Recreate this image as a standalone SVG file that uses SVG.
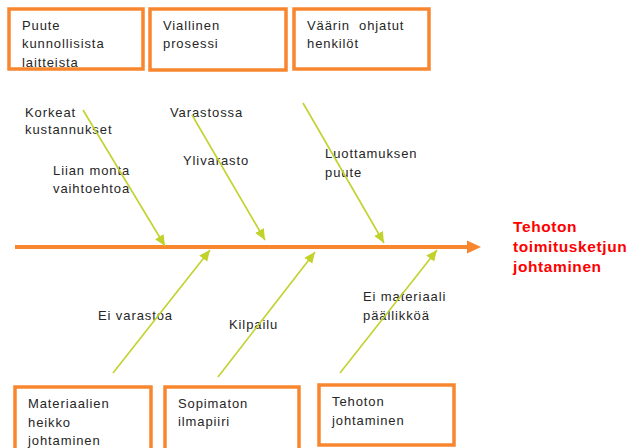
<svg xmlns="http://www.w3.org/2000/svg" width="629" height="448" viewBox="0 0 629 448">
<style>
.t{font-family:"Liberation Sans",Arial,sans-serif;font-size:13px;letter-spacing:0.9px;fill:#262626}
.box{fill:none;stroke:#F7862F;stroke-width:3.5}
.bone{stroke:#C2D22C;stroke-width:1.6;fill:none;marker-end:url(#ah)}
.head{font-family:"Liberation Sans",Arial,sans-serif;font-size:15.5px;font-weight:bold;letter-spacing:0.6px;fill:#FF0000}
</style>
<defs>
<marker id="ah" markerUnits="userSpaceOnUse" markerWidth="12" markerHeight="12" refX="11" refY="5" orient="auto">
<path d="M0,0 L11,5 L0,10 z" fill="#C2D22C"/>
</marker>
<filter id="sh" x="-5%" y="-200%" width="110%" height="500%">
<feGaussianBlur stdDeviation="1.5"/>
</filter>
</defs>
<rect width="629" height="448" fill="#FFFFFF"/>

<g id="box-puute">
<text class="t" x="22" y="30">Puute</text>
<text class="t" x="22" y="48">kunnollisista</text>
<text class="t" x="22" y="67">laitteista</text>
<rect class="box" x="9" y="9" width="134" height="60"/>
</g>
<g id="box-viallinen">
<text class="t" x="163" y="30">Viallinen</text>
<text class="t" x="163" y="48">prosessi</text>
<rect class="box" x="150" y="9" width="136" height="61"/>
</g>
<g id="box-vaarin">
<text class="t" x="307" y="30">Väärin&#160; ohjatut</text>
<text class="t" x="307" y="48">henkilöt</text>
<rect class="box" x="294" y="9" width="135" height="60"/>
</g>

<g id="box-materiaalien">
<text class="t" x="28" y="408">Materiaalien</text>
<text class="t" x="28" y="427">heikko</text>
<text class="t" x="28" y="445">johtaminen</text>
<rect class="box" x="15" y="387" width="136" height="66"/>
</g>
<g id="box-sopimaton">
<text class="t" x="178" y="408">Sopimaton</text>
<text class="t" x="178" y="426">ilmapiiri</text>
<rect class="box" x="165" y="387" width="134" height="66"/>
</g>
<g id="box-tehoton">
<text class="t" x="332" y="406">Tehoton</text>
<text class="t" x="332" y="425">johtaminen</text>
<rect class="box" x="319" y="385" width="135" height="60"/>
</g>

<g id="effect">
<text class="head" x="513" y="232">Tehoton</text>
<text class="head" x="513" y="252">toimitusketjun</text>
<text class="head" x="513" y="272">johtaminen</text>
</g>

<g id="labels">
<text class="t" x="25" y="117">Korkeat</text>
<text class="t" x="25" y="134">kustannukset</text>
<text class="t" x="53" y="175">Liian monta</text>
<text class="t" x="53" y="193">vaihtoehtoa</text>
<text class="t" x="170" y="117">Varastossa</text>
<text class="t" x="183" y="165">Ylivarasto</text>
<text class="t" x="325" y="158">Luottamuksen</text>
<text class="t" x="325" y="177">puute</text>
<text class="t" x="98" y="320">Ei varastoa</text>
<text class="t" x="229" y="329">Kilpailu</text>
<text class="t" x="363" y="301">Ei materiaali</text>
<text class="t" x="363" y="320">päällikköä</text>
</g>

<g id="connectors">
<line x1="17" y1="252" x2="470" y2="252" stroke="#9A9A9A" stroke-opacity="0.6" stroke-width="4" filter="url(#sh)"/>
<line x1="15" y1="247" x2="469" y2="247" stroke="#F7862F" stroke-width="4"/>
<polygon points="467,240.5 481,247 467,253.5" fill="#F7862F"/>
<line class="bone" x1="83" y1="110" x2="165" y2="246"/>
<line class="bone" x1="192" y1="115" x2="265" y2="240"/>
<line class="bone" x1="303" y1="103" x2="384" y2="243"/>
<line class="bone" x1="113" y1="373" x2="210" y2="250"/>
<line class="bone" x1="218" y1="377" x2="315" y2="252"/>
<line class="bone" x1="340" y1="373" x2="437" y2="250"/>
</g>
</svg>
